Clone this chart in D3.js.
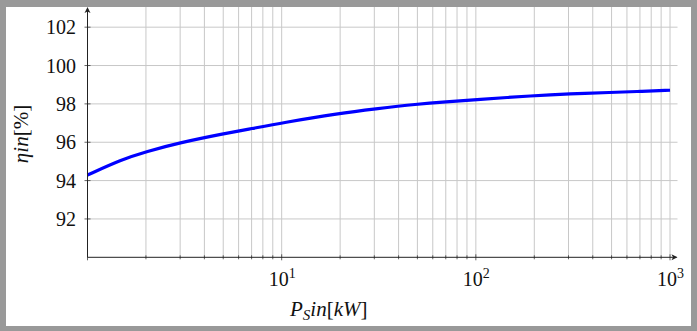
<!DOCTYPE html>
<html><head><meta charset="utf-8">
<script src="https://cdn.jsdelivr.net/npm/d3@7"></script>
<style>
html,body{margin:0;padding:0;background:#999999;}
svg{display:block;}
text{font-family:"Liberation Serif","DejaVu Serif",serif;fill:#111;}
</style></head>
<body>
<svg id="chart" width="697" height="331"></svg>
<script>
// Data
const power = [1, 1.5, 2, 3, 5, 7, 10, 20, 30, 50, 70, 100, 200, 300, 500, 700, 1000];
const efficiency = [94.29, 95.1, 95.51, 95.98, 96.44, 96.71, 97.01, 97.51, 97.73, 97.99, 98.11, 98.22, 98.43, 98.52, 98.6, 98.65, 98.71];
const yTicks = [92, 94, 96, 98, 100, 102];
const xTickExps = [1, 2, 3];

const svg = d3.select("#chart");
svg.append("rect").attr("x",6).attr("y",7).attr("width",685).attr("height",319).attr("fill","#fff");

const pLeft = 87.5, pRight = 677.5, pTop = 8, pBottom = 257.3;
const x = d3.scaleLog().domain([1, Math.pow(10, 3.0385)]).range([pLeft, pRight]);
const y = d3.scaleLinear().domain([90, 103]).range([pBottom, pTop]);

// minor + major vertical grid
const gridX = [];
for (let d = 1; d <= 1000; d *= 10) for (let m = 1; m <= 9; m++) { const v = d*m; if (v > 1 && v <= 1000) gridX.push(v); }
const g = svg.append("g");
g.selectAll("line.vg").data(gridX).join("line")
  .attr("x1", d=>x(d)).attr("x2", d=>x(d)).attr("y1", pBottom).attr("y2", pTop-1)
  .attr("stroke", "#c8c8c8").attr("stroke-width", 1);
g.selectAll("line.hg").data(yTicks).join("line")
  .attr("x1", pLeft).attr("x2", pRight).attr("y1", d=>y(d)).attr("y2", d=>y(d))
  .attr("stroke", "#c8c8c8").attr("stroke-width", 1);

// curve
const line = d3.line().x((d,i)=>x(power[i])).y(d=>y(d)).curve(d3.curveBasis);
svg.append("path").datum(efficiency).attr("d", line)
  .attr("fill","none").attr("stroke","#0000ff").attr("stroke-width",3.2);

// axes
const axisColor = "#222";
svg.append("line").attr("x1",pLeft).attr("x2",pRight-1).attr("y1",pBottom).attr("y2",pBottom).attr("stroke",axisColor).attr("stroke-width",1);
svg.append("line").attr("x1",pLeft).attr("x2",pLeft).attr("y1",pBottom).attr("y2",pTop+1).attr("stroke",axisColor).attr("stroke-width",1);
// arrows
svg.append("path").attr("d",`M${pRight},${pBottom} l-6,-3 l1.5,3 l-1.5,3 z`).attr("fill",axisColor);
svg.append("path").attr("d",`M${pLeft},${pTop-1} l-3,6 l3,-1.5 l3,1.5 z`).attr("fill",axisColor);

// x ticks (minor & major)
const xt = [1].concat(gridX);
svg.selectAll("line.xt").data(xt).join("line")
  .attr("x1",d=>x(d)).attr("x2",d=>x(d))
  .attr("y1",d=> pBottom - (Math.log10(d)%1===0 ? 3 : 2)).attr("y2",d=> pBottom + (Math.log10(d)%1===0 ? 3 : 2))
  .attr("stroke",axisColor).attr("stroke-width",0.7);
// y ticks
svg.selectAll("line.yt").data(yTicks).join("line")
  .attr("x1",pLeft-3).attr("x2",pLeft+3).attr("y1",d=>y(d)).attr("y2",d=>y(d))
  .attr("stroke",axisColor).attr("stroke-width",0.7);

// y tick labels
svg.selectAll("text.yl").data(yTicks).join("text")
  .attr("x", 76).attr("y", d=>y(d)+7).attr("text-anchor","end")
  .attr("font-size",20).text(d=>d);

// x tick labels
const xl = svg.selectAll("text.xl").data(xTickExps).join("text")
  .attr("x", d=>x(Math.pow(10,d))-13).attr("y", 285.5).attr("font-size",20);
xl.append("tspan").text("10");
xl.append("tspan").attr("dy",-8).attr("font-size",14).text(d=>d);

// x label
const xlab = svg.append("text").attr("x",290).attr("y",316).attr("font-size",21);
xlab.append("tspan").attr("font-style","italic").text("P");
xlab.append("tspan").attr("font-style","italic").attr("font-size",15).attr("dy",4).text("S");
xlab.append("tspan").attr("font-style","italic").attr("dy",-4).text("in");
xlab.append("tspan").text("[");
xlab.append("tspan").attr("font-style","italic").text("kW");
xlab.append("tspan").text("]");

// y label
const ylab = svg.append("text").attr("transform","translate(28,134) rotate(-90)")
  .attr("text-anchor","middle").attr("font-size",21);
ylab.append("tspan").attr("font-style","italic").text("ηin");
ylab.append("tspan").text("[%]");
</script>
</body></html>
